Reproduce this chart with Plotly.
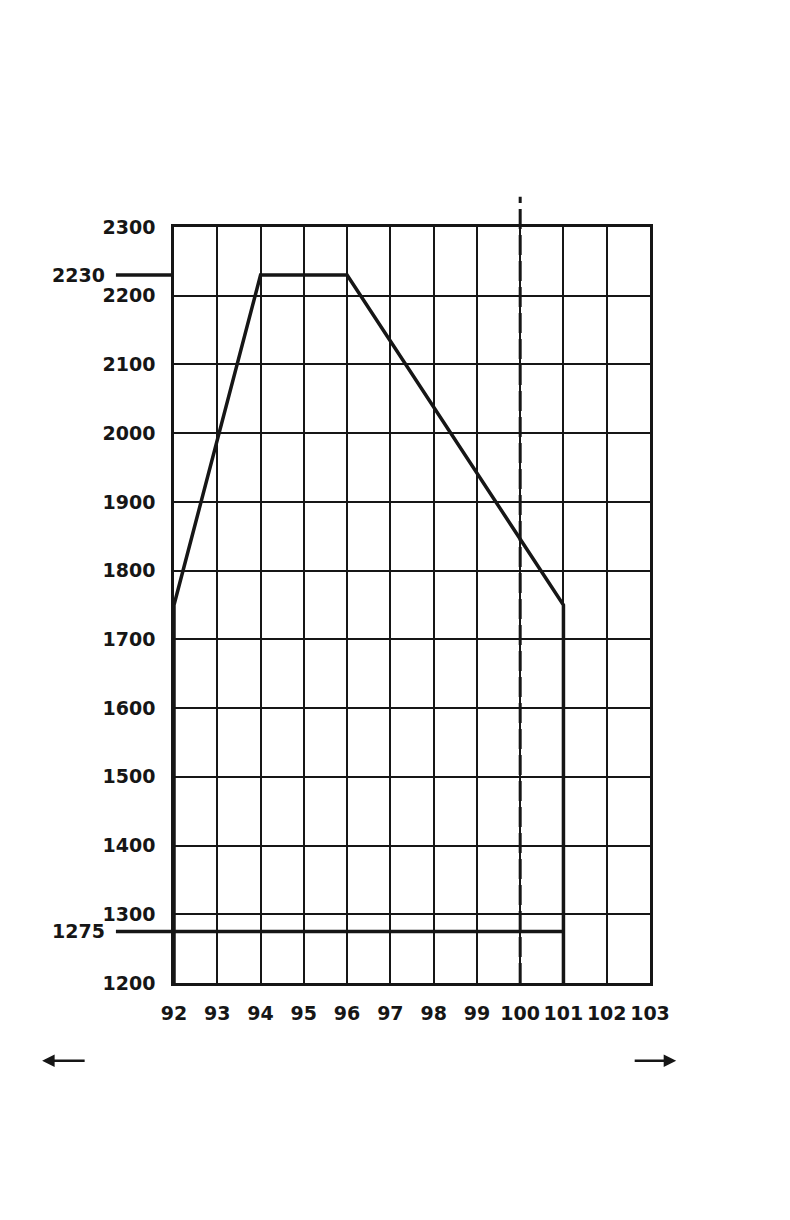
import plotly.graph_objects as go

# axis ticks
x_ticks = [92, 93, 94, 95, 96, 97, 98, 99, 100, 101, 102, 103]
y_ticks = [1200, 1300, 1400, 1500, 1600, 1700, 1800, 1900, 2000, 2100, 2200, 2300]

# envelope outline
outline_x = [92, 92, 94, 96, 101, 101]
outline_y = [1200, 1750, 2230, 2230, 1750, 1200]

# lower limit line
lower_x = [92, 101]
lower_y = [1275, 1275]

upper_value = 2230
lower_value = 1275
dashed_x = 100

FONT = "DejaVu Sans"
BLACK = "#161616"

fig = go.Figure()

fig.add_trace(go.Scatter(
    x=outline_x, y=outline_y, mode="lines",
    line=dict(color=BLACK, width=3.5), hoverinfo="skip",
))
fig.add_trace(go.Scatter(
    x=lower_x, y=lower_y, mode="lines",
    line=dict(color=BLACK, width=3.5), hoverinfo="skip",
))

# lead-in stubs from the side labels to the axis
for v in [upper_value, lower_value]:
    fig.add_shape(
        type="line", xref="x domain", yref="y",
        x0=-0.122, x1=0, y0=v, y1=v,
        line=dict(color=BLACK, width=3.5),
    )
    fig.add_annotation(
        xref="x domain", yref="y", x=-0.14, y=v,
        text=f"<b>{v}</b>", showarrow=False, xanchor="right", yanchor="middle",
        font=dict(family=FONT, size=19, color=BLACK),
    )

# dashed vertical line at 100, running past the top of the grid
fig.add_shape(
    type="line", xref="x", yref="y domain",
    x0=dashed_x, x1=dashed_x, y0=0, y1=1.04,
    line=dict(color=BLACK, width=3, dash="20px,6px"),
)

# direction arrows under the axis
fig.add_annotation(
    xref="paper", yref="paper", x=-0.277, y=-0.103,
    ax=44, ay=0, axref="pixel", ayref="pixel", text="",
    showarrow=True, arrowhead=2, arrowsize=1, arrowwidth=2.5, arrowcolor=BLACK,
)
fig.add_annotation(
    xref="paper", yref="paper", x=1.055, y=-0.103,
    ax=-43, ay=0, axref="pixel", ayref="pixel", text="",
    showarrow=True, arrowhead=2, arrowsize=1, arrowwidth=2.5, arrowcolor=BLACK,
)

fig.update_xaxes(
    range=[92, 103], tickvals=x_ticks, ticktext=[f"<b>{t}</b>" for t in x_ticks],
    showgrid=True, gridcolor=BLACK, gridwidth=2,
    showline=True, linecolor=BLACK, linewidth=2.5, mirror=True,
    zeroline=False, ticks="", ticklabelstandoff=11, tickangle=0,
    tickfont=dict(family=FONT, size=19, color=BLACK),
)
fig.update_yaxes(
    range=[1200, 2300], tickvals=y_ticks, ticktext=[f"<b>{t}</b>" for t in y_ticks],
    showgrid=True, gridcolor=BLACK, gridwidth=2,
    showline=True, linecolor=BLACK, linewidth=2.5, mirror=True,
    zeroline=False, ticks="", ticklabelstandoff=12,
    tickfont=dict(family=FONT, size=19, color=BLACK),
)

# page body adds an 8px margin, so the figure is 16px smaller than the window
fig.update_layout(
    width=774, height=1204,
    margin=dict(l=166, r=132, t=219, b=229),
    paper_bgcolor="white", plot_bgcolor="white",
    showlegend=False,
)

fig.write_html("out.html")
